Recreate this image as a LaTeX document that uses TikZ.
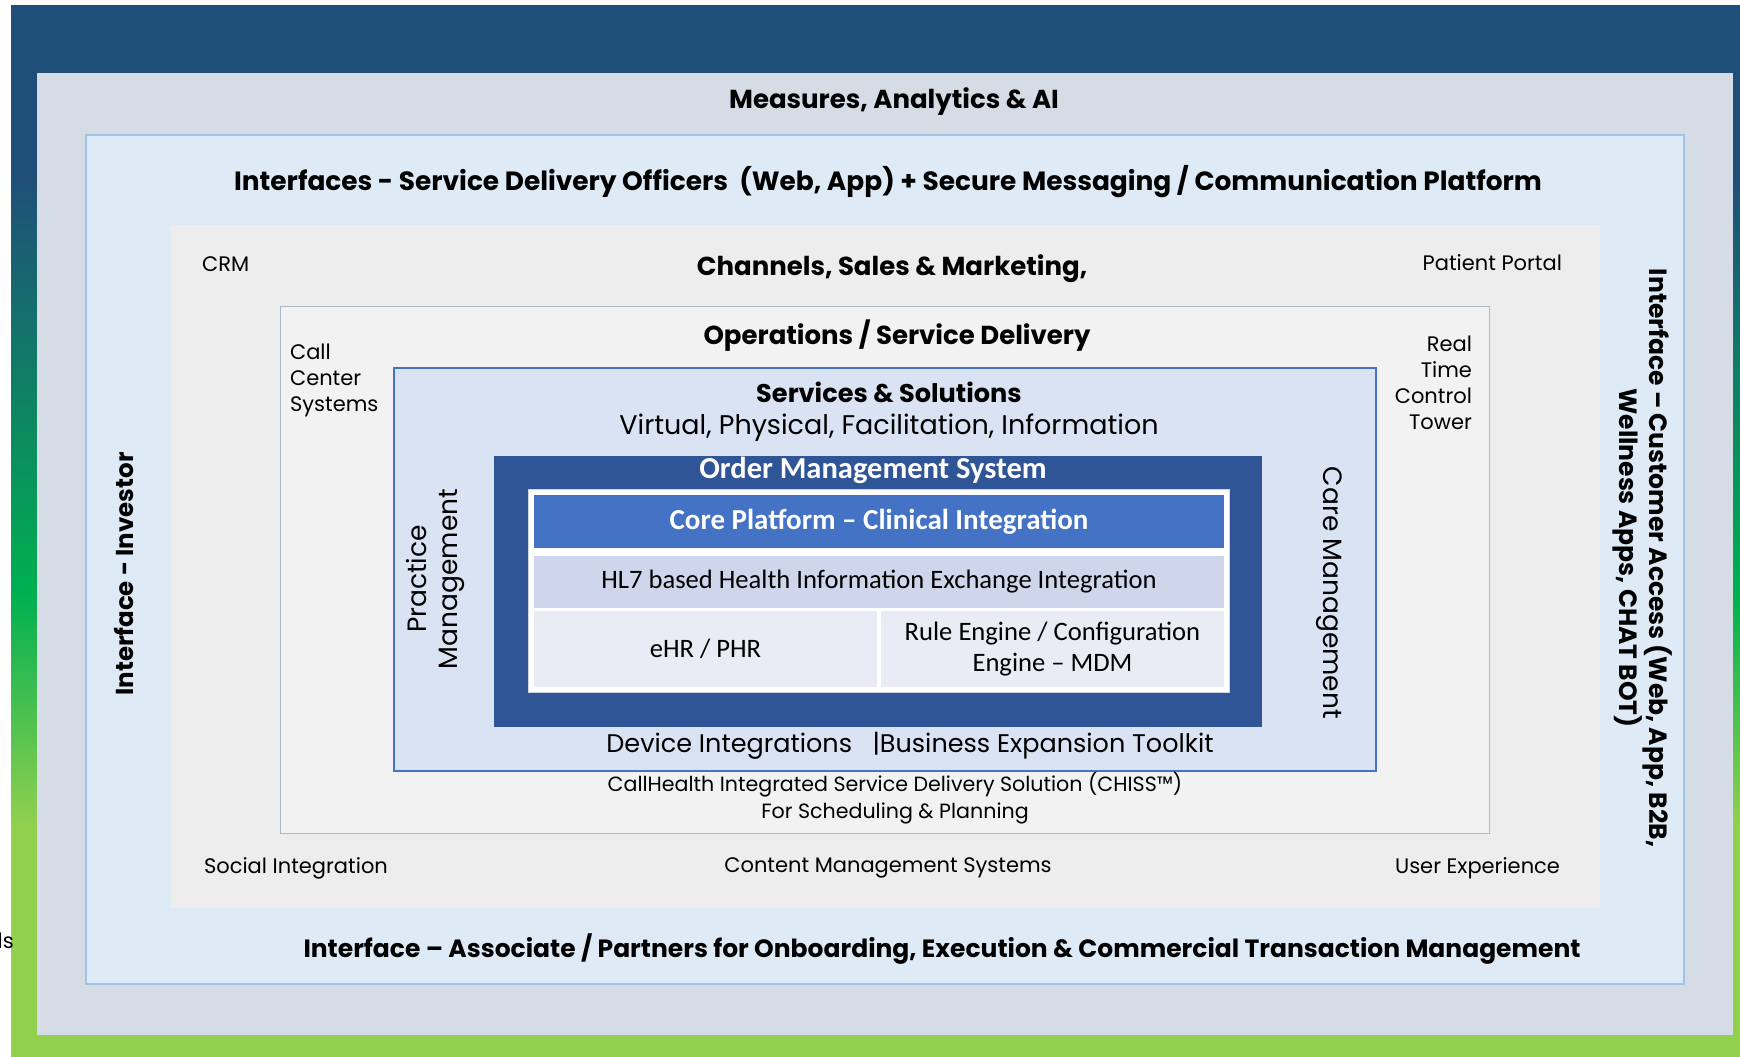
\documentclass[tikz,border=0pt]{standalone}
\usepackage{fontspec}
\setmainfont{Poppins}
\newfontfamily\calfont{Carlito}

\definecolor{darkblue}{HTML}{1F4E79}
\definecolor{midgreen}{HTML}{00B050}
\definecolor{litegreen}{HTML}{92D050}
\definecolor{grayblue}{HTML}{D6DCE5}
\definecolor{paleblue}{HTML}{DEEBF7}
\definecolor{paleedge}{HTML}{9DC3E6}
\definecolor{chgray}{HTML}{EDEDED}
\definecolor{opgray}{HTML}{F2F2F2}
\definecolor{opedge}{HTML}{ADB9CA}
\definecolor{svcfill}{HTML}{DAE3F3}
\definecolor{accent}{HTML}{4472C4}
\definecolor{omsblue}{HTML}{2F5597}
\definecolor{hlrow}{HTML}{CFD5EA}
\definecolor{lowrow}{HTML}{E9EBF5}

% the path covers 25bp..75bp of the shading
\pgfdeclareverticalshading{bgfade}{100bp}{color(0bp)=(litegreen); color(36bp)=(litegreen); color(47bp)=(midgreen); color(67bp)=(darkblue); color(100bp)=(darkblue)}

\tikzset{
  layer/.style={rectangle,inner sep=0pt,outer sep=0pt},
  head/.style={font=\fontsize{26}{31}\selectfont\bfseries},
  side/.style={font=\fontsize{25}{30}\selectfont\bfseries},
  plain/.style={font=\fontsize{21}{26}\selectfont},
  big/.style={font=\fontsize{26.5}{31}\selectfont},
  cal/.style={font=\calfont\fontsize{26.6}{31}\selectfont}
}

\begin{document}
\begin{tikzpicture}[x=1pt,y=-1pt,inner sep=1mm]

\useasboundingbox (0,0) rectangle (1740,1057);

\shade[shading=bgfade] (11,6) rectangle (1740,1057);

\node[layer,fill=grayblue,minimum width=1696pt,minimum height=962pt] (M) at (885,554) {};
\node[layer,draw=paleedge,line width=1.2pt,fill=paleblue,minimum width=1598pt,minimum height=849pt] (I) at (885,559.5) {};
\node[layer,fill=chgray,minimum width=1429pt,minimum height=683pt] (C) at (885.5,566.5) {};
\node[layer,draw=opedge,fill=opgray,minimum width=1209pt,minimum height=527pt] (O) at (884.5,569.5) {};
\node[layer,draw=accent,line width=1.2pt,fill=svcfill,minimum width=982pt,minimum height=403pt] (S) at (885,569.5) {};
\node[layer,fill=omsblue,minimum width=768pt,minimum height=271pt] (OMS) at (878,591.5) {};
\node[layer,draw=opedge!60,fill=white,minimum width=701pt,minimum height=203pt] (F) at (878.5,590.5) {};

\node[layer,fill=accent,minimum width=690pt,minimum height=53pt] (core) at (879,521.5) {};
\node[layer,fill=hlrow,minimum width=690pt,minimum height=52pt] (hl7) at (879,582) {};
\node[layer,fill=lowrow,minimum width=343pt,minimum height=76pt] (ehr) at (705.5,649) {};
\node[layer,fill=lowrow,minimum width=343pt,minimum height=76pt] (rule) at (1052.5,649) {};

\node[head] (t1) at (894,102) {Measures, Analytics \& AI};
\node[head,font=\fontsize{26.4}{31}\selectfont\bfseries] (t2) at (888,182) {Interfaces - Service Delivery Officers~ (Web, App) + Secure Messaging / Communication Platform};
\node[head] (t3) at (892,269) {Channels, Sales \& Marketing,};
\node[head] (t4) at (897,336) {Operations / Service Delivery};
\node[font=\fontsize{25.6}{30}\selectfont\bfseries] (t5) at (889,392) {Services \& Solutions};
\node[big,font=\fontsize{27}{32}\selectfont] (t6) at (889,428) {Virtual, Physical, Facilitation, Information};
\node[text=white,font=\calfont\fontsize{30.5}{36}\selectfont\bfseries] (t7) at (873,470) {Order Management System};
\node[text=white,font=\calfont\fontsize{29}{34}\selectfont\bfseries] (t8) at (core) {Core Platform – Clinical Integration};
\node[cal] (t9) at (hl7) {HL7 based Health Information Exchange Integration};
\node[cal] at (ehr) (t10) {eHR / PHR};
\node[cal,align=center] (t11) at (rule) {Rule Engine / Configuration\\Engine – MDM};
\node[big,font=\fontsize{25.5}{30}\selectfont] (t12) at (910,746) {Device Integrations~~ |Business Expansion Toolkit};
\node[align=center,font=\fontsize{20.6}{26.5}\selectfont] (t13) at (895,798) {CallHealth Integrated Service Delivery Solution (CHISS™)\\For Scheduling \& Planning};

\node[plain,anchor=west] (crm) at (199,264) {CRM};
\node[plain,anchor=east] (pp) at (1565,263) {Patient Portal};
\node[plain,anchor=west,align=left] (ccs) at (287,380) {Call\\Center\\Systems};
\node[plain,anchor=east,align=right] (rtc) at (1475,383) {Real\\Time\\Control\\Tower};
\node[plain,anchor=west] (soc) at (201,868) {Social Integration};
\node[plain] (cms) at (888,868) {Content Management Systems};
\node[plain,anchor=east] (ux) at (1563,868) {User Experience};

\node[big,rotate=90,align=center] (pm) at (435,579) {Practice\\Management};
\node[big,rotate=-90] (cm) at (1329,593) {Care Management};

\node[side,font=\fontsize{24.5}{29}\selectfont\bfseries,rotate=90] (inv) at (124,574) {Interface - Investor};
\node[side,rotate=-90,align=center] (cust) at (1643,558) {Interface – Customer Access (Web, App, B2B,\\Wellness Apps, CHAT BOT)};
\node[side] (asc) at (942,949) {Interface – Associate / Partners for Onboarding, Execution \& Commercial Transaction Management};

\node[plain,anchor=east,inner sep=0pt] (ls) at (14,941) {ls};

\end{tikzpicture}
\end{document}
